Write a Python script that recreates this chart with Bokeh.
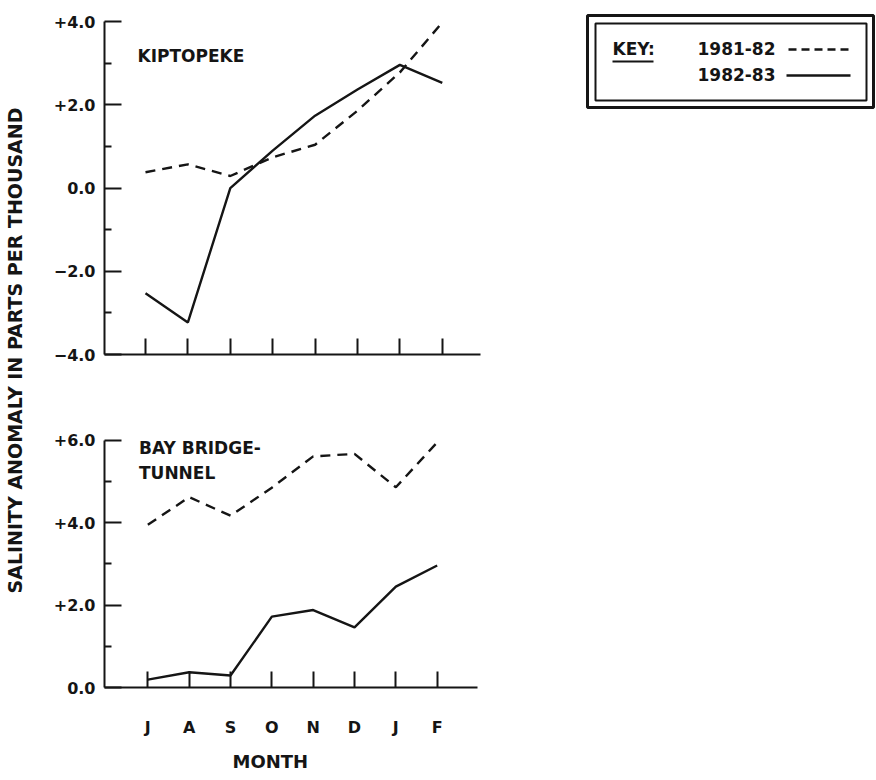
import math
from bokeh.plotting import figure
from bokeh.layouts import row, column
from bokeh.models import FixedTicker, Range1d, Title
from bokeh.core.properties import value
from bokeh.embed import file_html
from bokeh.resources import INLINE

# ---------------- data ----------------
months = ["J", "A", "S", "O", "N", "D", "J", "F"]
series_names = ["1981-82", "1982-83"]
kiptopeke_8182 = [0.38, 0.57, 0.29, 0.74, 1.04, 1.86, 2.78, 3.98]
kiptopeke_8283 = [-2.53, -3.23, 0.0, 0.90, 1.74, 2.37, 2.96, 2.53]
bbt_8182 = [3.95, 4.62, 4.17, 4.85, 5.61, 5.67, 4.86, 5.95]
bbt_8283 = [0.19, 0.37, 0.29, 1.72, 1.88, 1.46, 2.45, 2.96]
top_ticks = [-4, -2, 0, 2, 4]
top_tick_labels = ["\u22124.0", "\u22122.0", "0.0", "+2.0", "+4.0"]
top_minor = [-3, -1, 1, 3]
bot_ticks = [0, 2, 4, 6]
bot_tick_labels = ["0.0", "+2.0", "+4.0", "+6.0"]
bot_minor = [1, 3, 5]
y_title = "SALINITY ANOMALY IN PARTS PER THOUSAND"
x_title = "MONTH"
top_label = "KIPTOPEKE"
bot_label = ["BAY BRIDGE-", "TUNNEL"]

INK = "#151515"
FONT = "DejaVu Sans"
DASH = "10 7"
LW = 2.4
xs = list(range(len(months)))

# pixel helpers (for decoration placement only)
def TX(px): return (px - 145.0) / 42.4
def TY(py): return (187.5 - py) / 41.6
def BX(px): return (px - 142.0) / 41.96
def BY(py): return (687.0 - py) / 41.2


def base_axes(p):
    p.grid.visible = False
    for ax in p.axis:
        ax.axis_line_width = 2
        ax.axis_line_color = INK
        ax.major_tick_line_width = 2
        ax.major_tick_line_color = INK
        ax.minor_tick_line_width = 2
        ax.minor_tick_line_color = INK
        ax.major_label_text_font = FONT
        ax.major_label_text_font_style = "bold"
        ax.major_label_text_font_size = "16px"
        ax.major_label_text_color = INK
        ax.major_tick_out = 0
        ax.minor_tick_out = 0
    for ax in p.yaxis:
        ax.major_tick_in = 17
        ax.minor_tick_in = 7
        ax.major_label_standoff = 9
    for ax in p.xaxis:
        ax.major_tick_in = 16
        ax.minor_tick_in = 0


# ---------------- y-axis title strip ----------------
pt = figure(width=30, height=780, x_range=(0, 1), y_range=(0, 1),
            x_axis_location=None, y_axis_location=None,
            toolbar_location=None, output_backend="svg",
            min_border=0, outline_line_color=None)
pt.grid.visible = False
pt.text(x=[14 / 30], y=[1 - 350 / 780], text=[y_title], angle=math.pi / 2,
        text_font=value(FONT), text_font_style="bold", text_font_size="19px",
        text_color=INK, text_align="center", text_baseline="middle")

# ---------------- top panel: Kiptopeke ----------------
ptop = figure(width=846, height=378,
              x_range=Range1d(TX(104), TX(876)), y_range=Range1d(-4, TY(8)),
              toolbar_location=None, output_backend="svg",
              min_border_left=74, min_border_right=0,
              min_border_top=8, min_border_bottom=24,
              outline_line_color=None)
base_axes(ptop)
ptop.yaxis.ticker = FixedTicker(ticks=top_ticks, minor_ticks=top_minor)
ptop.yaxis.major_label_overrides = dict(zip(top_ticks, top_tick_labels))
ptop.yaxis.bounds = (-4, 4)
ptop.xaxis.ticker = FixedTicker(ticks=xs, minor_ticks=[])
ptop.xaxis.major_label_overrides = {i: "" for i in xs}
ptop.xaxis.major_label_text_font_size = "1px"
ptop.xaxis.major_label_standoff = 0
ptop.xaxis.bounds = (TX(104), TX(480))

ptop.line(xs, kiptopeke_8182, line_color=INK, line_width=LW, line_dash=DASH)
ptop.line(xs, kiptopeke_8283, line_color=INK, line_width=LW)
ptop.text(x=[TX(137)], y=[TY(55)], text=[top_label], text_font=value(FONT),
          text_font_style="bold", text_font_size="17px", text_color=INK,
          text_align="left", text_baseline="middle")

# key box
ptop.quad(left=[TX(587)], right=[TX(873)], top=[TY(15)], bottom=[TY(107)],
          fill_color=None, line_color=INK, line_width=3)
ptop.quad(left=[TX(595)], right=[TX(866)], top=[TY(23)], bottom=[TY(100)],
          fill_color=None, line_color=INK, line_width=2)
ptop.text(x=[TX(612)], y=[TY(48)], text=["KEY:"], text_font=value(FONT),
          text_font_style="bold", text_font_size="17px", text_color=INK,
          text_align="left", text_baseline="middle")
ptop.segment(x0=[TX(612)], y0=[TY(61)], x1=[TX(653)], y1=[TY(61)],
             line_color=INK, line_width=2)
ptop.text(x=[TX(697), TX(697)], y=[TY(48), TY(74)], text=series_names,
          text_font=value(FONT), text_font_style="bold", text_font_size="17px",
          text_color=INK, text_align="left", text_baseline="middle")
ptop.segment(x0=[TX(788)], y0=[TY(49)], x1=[TX(850)], y1=[TY(49)],
             line_color=INK, line_width=LW, line_dash="8 5")
ptop.segment(x0=[TX(786)], y0=[TY(75)], x1=[TX(850)], y1=[TY(75)],
             line_color=INK, line_width=LW)

# ---------------- bottom panel: Bay Bridge-Tunnel ----------------
pbot = figure(width=470, height=402,
              x_range=Range1d(BX(98), BX(500)), y_range=Range1d(0, BY(420)),
              toolbar_location=None, output_backend="svg",
              min_border_left=68, min_border_right=0,
              min_border_top=42, min_border_bottom=93,
              outline_line_color=None)
base_axes(pbot)
pbot.yaxis.ticker = FixedTicker(ticks=bot_ticks, minor_ticks=bot_minor)
pbot.yaxis.major_label_overrides = dict(zip(bot_ticks, bot_tick_labels))
pbot.yaxis.bounds = (0, 6)
pbot.xaxis.ticker = FixedTicker(ticks=xs, minor_ticks=[])
pbot.xaxis.major_label_overrides = dict(zip(xs, months))
pbot.xaxis.major_label_standoff = 30
pbot.xaxis.bounds = (BX(98), BX(477))

pbot.add_layout(Title(text=x_title, align="left", offset=128, standoff=18,
                      text_font=FONT, text_font_style="bold",
                      text_font_size="18px", text_color=INK), "below")

pbot.line(xs, bbt_8182, line_color=INK, line_width=LW, line_dash=DASH)
pbot.line(xs, bbt_8283, line_color=INK, line_width=LW)
pbot.text(x=[BX(133), BX(133)], y=[BY(447), BY(472)], text=bot_label,
          text_font=value(FONT), text_font_style="bold", text_font_size="17px",
          text_color=INK, text_align="left", text_baseline="middle")

layout = row(pt, column(ptop, pbot))
open("out.html", "w").write(file_html(layout, INLINE))
